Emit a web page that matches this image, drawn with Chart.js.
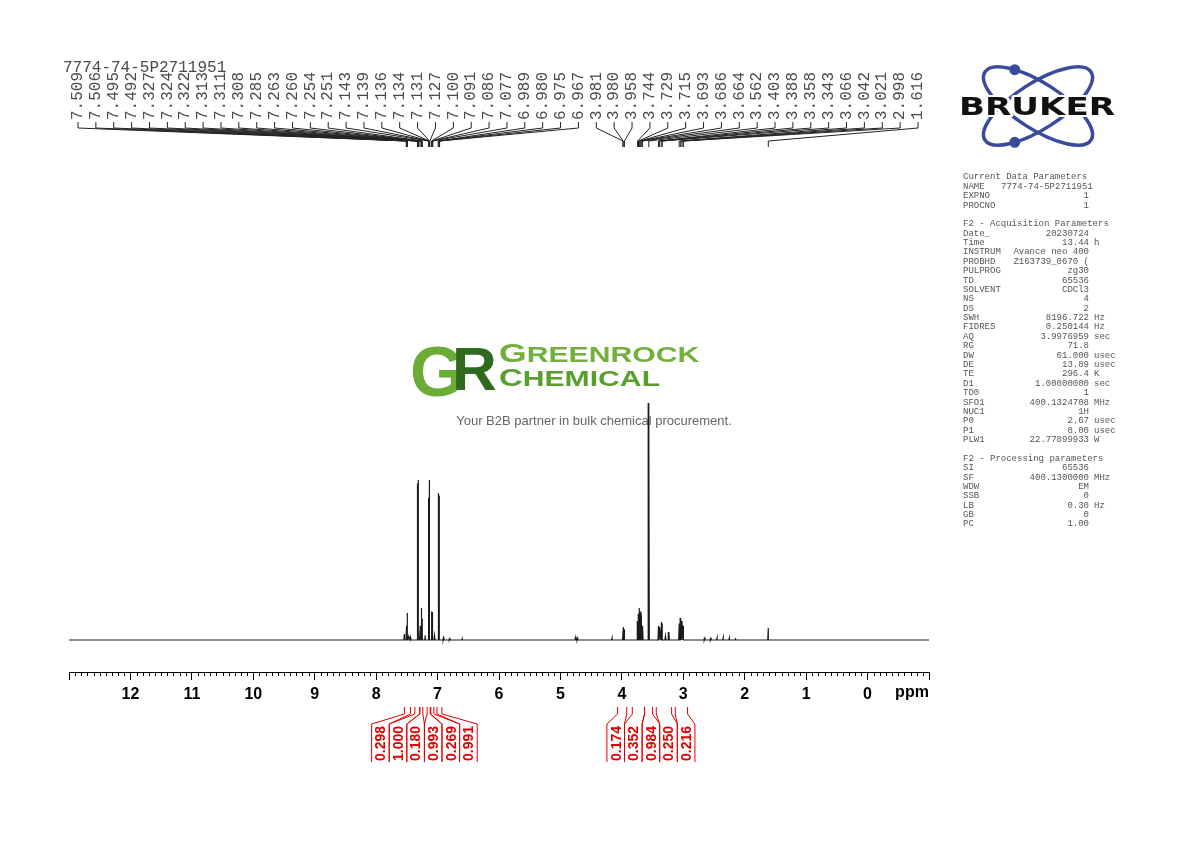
<!DOCTYPE html>
<html>
<head>
<meta charset="utf-8">
<script src="https://cdn.jsdelivr.net/npm/chart.js@4.4.0/dist/chart.umd.min.js"></script>
<style>
  html, body { margin: 0; padding: 0; background: #fff; }
</style>
</head>
<body>
<canvas id="nmrChart" width="1190" height="842"></canvas>
<script>
  const sampleName = '7774-74-5P2711951';

  // picked peaks (ppm) and peak heights (tallest line = 100)
  const peakPpm = [7.509, 7.506, 7.495, 7.492, 7.327, 7.324, 7.322, 7.313, 7.311, 7.308,
    7.285, 7.263, 7.260, 7.254, 7.251, 7.143, 7.139, 7.136, 7.134, 7.131, 7.127,
    7.100, 7.091, 7.086, 7.077, 6.989, 6.980, 6.975, 6.967,
    3.981, 3.980, 3.958, 3.744, 3.729, 3.715, 3.693, 3.686, 3.664, 3.562,
    3.403, 3.388, 3.358, 3.343, 3.066, 3.042, 3.021, 2.998, 1.616];
  const peakHeight = [6, 6, 11.4, 11, 60, 66, 64, 67.5, 66, 60,
    6, 13.5, 13, 10, 9, 60, 66, 67.5, 66, 64, 58,
    5, 12, 11.8, 6, 58, 62, 61, 55,
    5.5, 5.3, 4.5, 8, 11, 13.5, 12, 10, 6, 100,
    6, 5.5, 7.6, 7, 7, 9.3, 8, 6, 5];

  // small unpicked bumps
  const minorPpm = [7.54, 7.47, 7.44, 7.20, 7.05, 6.90, 6.80, 6.60, 4.75, 4.72, 4.16,
    3.29, 3.235, 2.65, 2.55, 2.45, 2.35, 2.25, 2.15];
  const minorHeight = [2.5, 1.5, 1.2, 2, 2, 1, 0.6, 0.5, 1.2, 0.8, 0.8,
    1.7, 3.4, 0.8, 0.7, 0.9, 1, 0.8, 0.5];

  // integrals
  const integralFrom = [7.54, 7.37, 7.29, 7.17, 7.11, 7.01, 4.07, 3.83, 3.63, 3.44, 3.13];
  const integralTo = [7.44, 7.29, 7.24, 7.12, 7.06, 6.93, 3.92, 3.63, 3.50, 3.19, 2.93];
  const integralValue = ['0.298', '1.000', '0.180', '0.993', '0.269', '0.991',
    '0.174', '0.352', '0.984', '0.250', '0.216'];
  const integralGroup = [0, 0, 0, 0, 0, 0, 1, 1, 1, 1, 1];

  const ppmMin = -1, ppmMax = 13;

  const paramRows = [
    ['Current Data Parameters'],
    ['NAME', sampleName],
    ['EXPNO', '1'],
    ['PROCNO', '1'],
    [],
    ['F2 - Acquisition Parameters'],
    ['Date_', '20230724'],
    ['Time', '13.44', 'h'],
    ['INSTRUM', 'Avance neo 400'],
    ['PROBHD', 'Z163739_0670 ('],
    ['PULPROG', 'zg30'],
    ['TD', '65536'],
    ['SOLVENT', 'CDCl3'],
    ['NS', '4'],
    ['DS', '2'],
    ['SWH', '8196.722', 'Hz'],
    ['FIDRES', '0.250144', 'Hz'],
    ['AQ', '3.9976959', 'sec'],
    ['RG', '71.8'],
    ['DW', '61.000', 'usec'],
    ['DE', '13.89', 'usec'],
    ['TE', '296.4', 'K'],
    ['D1', '1.00000000', 'sec'],
    ['TD0', '1'],
    ['SFO1', '400.1324708', 'MHz'],
    ['NUC1', '1H'],
    ['P0', '2.67', 'usec'],
    ['P1', '8.00', 'usec'],
    ['PLW1', '22.77899933', 'W'],
    [],
    ['F2 - Processing parameters'],
    ['SI', '65536'],
    ['SF', '400.1300000', 'MHz'],
    ['WDW', 'EM'],
    ['SSB', '0'],
    ['LB', '0.30', 'Hz'],
    ['GB', '0'],
    ['PC', '1.00']
  ];

  // build the line: each peak as a narrow spike on a flat baseline
  const halfWidth = 0.009;
  const spectrum = [{ x: ppmMin, y: 0 }, { x: ppmMax, y: 0 }];
  function addSpikes(pos, hts) {
    pos.forEach((p, i) => {
      spectrum.push({ x: p - halfWidth, y: 0 }, { x: p, y: hts[i] }, { x: p + halfWidth, y: 0 });
    });
  }
  addSpikes(peakPpm, peakHeight);
  addSpikes(minorPpm, minorHeight);
  spectrum.sort((a, b) => a.x - b.x);

  const watermark = {
    id: 'watermark',
    beforeDatasetsDraw(chart) {
      const c = chart.ctx;
      c.save();
      c.textBaseline = 'alphabetic';
      c.fillStyle = '#6aac35';
      c.font = 'bold 70px "Liberation Sans"';
      c.fillText('G', 410, 396);
      c.fillStyle = '#2f6a1e';
      c.font = 'bold 62px "Liberation Sans"';
      c.fillText('R', 452, 390);

      c.fillStyle = '#72b03c';
      c.save();
      c.translate(499, 362);
      c.scale(1.37, 1);
      c.font = 'bold 26px "Liberation Sans"';
      c.fillText('G', 0, 0);
      const gw = c.measureText('G').width;
      c.font = 'bold 22px "Liberation Sans"';
      c.fillText('REENROCK', gw, 0);
      c.restore();

      c.fillStyle = '#5a9f2d';
      c.save();
      c.translate(499, 386);
      c.scale(1.37, 1);
      c.font = 'bold 24px "Liberation Sans"';
      c.fillText('C', 0, 0);
      const cw = c.measureText('C').width;
      c.font = 'bold 22px "Liberation Sans"';
      c.fillText('HEMICAL', cw, 0);
      c.restore();

      c.fillStyle = '#666';
      c.font = '13px "Liberation Sans"';
      c.textAlign = 'center';
      c.textBaseline = 'middle';
      c.fillText('Your B2B partner in bulk chemical procurement.', 594, 421);
      c.restore();
    }
  };

  const decorations = {
    id: 'decorations',
    afterDraw(chart) {
      const c = chart.ctx;
      const xs = chart.scales.x;
      const axisY = xs.top;
      c.save();

      // minor ticks every 0.1 ppm
      c.strokeStyle = '#000';
      c.lineWidth = 1;
      c.beginPath();
      for (let i = ppmMin * 10; i <= ppmMax * 10; i++) {
        if (i % 10 === 0) continue;
        const px = Math.round(xs.getPixelForValue(i / 10)) + 0.5;
        c.moveTo(px, axisY);
        c.lineTo(px, axisY + 4);
      }
      c.stroke();

      c.fillStyle = '#000';
      c.font = 'bold 16px "Liberation Sans"';
      c.textAlign = 'center';
      c.textBaseline = 'middle';
      c.fillText('ppm', 912, 693);

      // peak labels fan
      const n = peakPpm.length;
      const lx0 = 78, lx1 = 918;
      const step = (lx1 - lx0) / (n - 1);
      c.fillStyle = '#4a4a4a';
      c.strokeStyle = '#222';
      c.font = '16px "Liberation Mono"';
      c.textAlign = 'left';
      c.textBaseline = 'middle';
      c.beginPath();
      peakPpm.forEach((p, i) => {
        const lx = lx0 + i * step;
        const px = xs.getPixelForValue(p);
        c.save();
        c.translate(lx, 120);
        c.rotate(-Math.PI / 2);
        c.fillText(p.toFixed(3), 0, 0);
        c.restore();
        c.moveTo(lx, 122);
        c.lineTo(lx, 128);
        c.lineTo(px, 141);
        c.lineTo(px, 147);
      });
      c.stroke();

      c.textBaseline = 'middle';
      c.fillText(sampleName, 63, 68);

      // integrals
      c.strokeStyle = '#e00000';
      c.fillStyle = '#e00000';
      c.font = 'bold 14px "Liberation Sans"';
      const spacing = 17.6;
      [0, 1].forEach(g => {
        const idx = integralGroup.map((v, i) => v === g ? i : -1).filter(i => i >= 0);
        const mid = idx.reduce((s, i) => s + (integralFrom[i] + integralTo[i]) / 2, 0) / idx.length;
        const cx = xs.getPixelForValue(mid);
        idx.forEach((i, k) => {
          const lx = cx + (k - (idx.length - 1) / 2) * spacing;
          const pf = xs.getPixelForValue(integralFrom[i]);
          const pt = xs.getPixelForValue(integralTo[i]);
          c.beginPath();
          c.moveTo(lx - spacing / 2, 762);
          c.lineTo(lx - spacing / 2, 724);
          c.lineTo(pf, 714);
          c.lineTo(pf, 707);
          c.moveTo(lx + spacing / 2, 762);
          c.lineTo(lx + spacing / 2, 724);
          c.lineTo(pt, 714);
          c.lineTo(pt, 707);
          c.stroke();
          c.save();
          c.translate(lx + 1, 761);
          c.rotate(-Math.PI / 2);
          c.fillText(integralValue[i], 0, 0);
          c.restore();
        });
      });

      // parameter panel
      c.fillStyle = '#555';
      c.font = '9px "Liberation Mono"';
      c.textBaseline = 'middle';
      paramRows.forEach((r, i) => {
        const y = 177 + i * 9.38;
        if (!r.length) return;
        c.textAlign = 'left';
        c.fillText(r[0], 963, y);
        if (r[1] !== undefined) {
          if (r[0] === 'NAME') {
            c.fillText(r[1], 1001, y);
          } else {
            c.textAlign = 'right';
            c.fillText(r[1], 1089, y);
          }
        }
        if (r[2]) {
          c.textAlign = 'left';
          c.fillText(r[2], 1094, y);
        }
      });

      // Bruker logo
      const bx = 1038, by = 106, rx = 63, ry = 23, th = 0.57;
      c.strokeStyle = '#3a4a9c';
      c.fillStyle = '#3a4a9c';
      c.lineWidth = 3.5;
      c.beginPath();
      c.ellipse(bx, by, rx, ry, th, 0, Math.PI * 2);
      c.stroke();
      c.beginPath();
      c.ellipse(bx, by, rx, ry, -th, 0, Math.PI * 2);
      c.stroke();
      const t = Math.PI + 0.9;
      const dxa = rx * Math.cos(t) * Math.cos(th) - ry * Math.sin(t) * Math.sin(th);
      const dya = rx * Math.cos(t) * Math.sin(th) + ry * Math.sin(t) * Math.cos(th);
      c.beginPath();
      c.arc(bx + dxa, by + dya, 5.5, 0, Math.PI * 2);
      c.arc(bx + dxa, by - dya, 5.5, 0, Math.PI * 2);
      c.fill();

      c.save();
      c.font = 'bold 24px "DejaVu Sans"';
      const bw = c.measureText('BRUKER').width;
      c.translate(959, 108.5);
      c.scale(156 / bw, 1);
      c.textAlign = 'left';
      c.textBaseline = 'middle';
      c.strokeStyle = '#fff';
      c.lineWidth = 4;
      c.lineJoin = 'round';
      c.strokeText('BRUKER', 0, 0);
      c.fillStyle = '#111';
      c.fillText('BRUKER', 0, 0);
      c.restore();

      c.restore();
    }
  };

  const ctx = document.getElementById('nmrChart').getContext('2d');

  const nmrChart = new Chart(ctx, {
    type: 'line',
    data: {
      datasets: [{
        data: spectrum,
        borderColor: '#1a1a1a',
        borderWidth: 1.2,
        pointRadius: 0,
        tension: 0,
        fill: false
      }]
    },
    options: {
      responsive: false,
      animation: false,
      devicePixelRatio: 1,
      events: [],
      layout: {
        padding: { left: 69, right: 261, top: 160, bottom: 0 }
      },
      plugins: {
        legend: { display: false },
        tooltip: { enabled: false }
      },
      scales: {
        x: {
          type: 'linear',
          reverse: true,
          min: ppmMin,
          max: ppmMax,
          afterFit: (scale) => { scale.height = 170; },
          ticks: {
            stepSize: 1,
            autoSkip: false,
            maxRotation: 0,
            padding: 5,
            color: '#000',
            font: { family: 'Liberation Sans', size: 16, weight: 'bold' },
            callback: (v) => (v >= 0 && v <= 12) ? String(v) : ''
          },
          grid: {
            drawOnChartArea: false,
            drawTicks: true,
            tickLength: 8,
            tickColor: '#000',
            tickWidth: 1
          },
          border: { display: true, color: '#000', width: 1 }
        },
        y: {
          display: false,
          min: -13.5,
          max: 202.5
        }
      }
    },
    plugins: [watermark, decorations]
  });
</script>
</body>
</html>
